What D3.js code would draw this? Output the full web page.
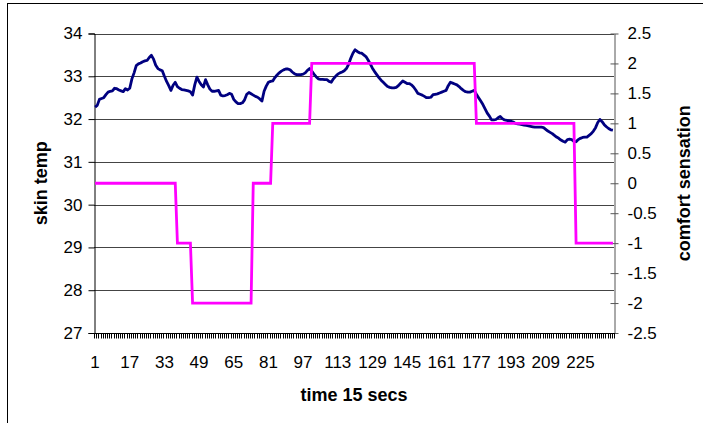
<!DOCTYPE html>
<html>
<head>
<meta charset="utf-8">
<script src="https://cdn.jsdelivr.net/npm/d3@7"></script>
<style>
  body { margin: 0; background: #fff; }
  svg { display: block; font-family: "Liberation Sans", Arial, sans-serif; }
</style>
</head>
<body>
<div id="chart"></div>
<script>
// skin temp readings, one per 15 sec interval (1..240)
var skinTemp = [
  32.28, 32.32, 32.46, 32.48, 32.50, 32.57, 32.63, 32.65, 32.66, 32.72, 32.71, 32.68, 32.66, 32.64, 32.71, 32.68, 32.72, 32.94, 33.08, 33.25,
  33.29, 33.31, 33.34, 33.36, 33.37, 33.44, 33.49, 33.40, 33.26, 33.18, 33.15, 33.13, 33.00, 32.88, 32.78, 32.67, 32.79, 32.86, 32.76, 32.72,
  32.69, 32.68, 32.67, 32.66, 32.64, 32.56, 32.80, 32.98, 32.88, 32.80, 32.75, 32.92, 32.80, 32.70, 32.65, 32.65, 32.66, 32.67, 32.56, 32.54,
  32.55, 32.57, 32.60, 32.58, 32.46, 32.40, 32.36, 32.36, 32.38, 32.45, 32.58, 32.62, 32.59, 32.56, 32.53, 32.51, 32.47, 32.42, 32.65, 32.77,
  32.86, 32.88, 32.89, 32.97, 33.03, 33.08, 33.12, 33.15, 33.17, 33.17, 33.15, 33.10, 33.06, 33.04, 33.04, 33.04, 33.05, 33.08, 33.14, 33.18,
  33.12, 33.05, 32.99, 32.94, 32.93, 32.93, 32.92, 32.92, 32.88, 32.86, 32.94, 33.00, 33.05, 33.08, 33.10, 33.13, 33.18, 33.28, 33.42, 33.54,
  33.62, 33.58, 33.55, 33.54, 33.50, 33.46, 33.38, 33.29, 33.19, 33.11, 33.04, 32.97, 32.91, 32.86, 32.81, 32.76, 32.74, 32.73, 32.73, 32.74,
  32.78, 32.84, 32.89, 32.86, 32.83, 32.83, 32.80, 32.75, 32.68, 32.60, 32.58, 32.56, 32.53, 32.50, 32.50, 32.51, 32.57, 32.58, 32.59, 32.61,
  32.63, 32.65, 32.67, 32.78, 32.86, 32.84, 32.82, 32.80, 32.76, 32.71, 32.67, 32.64, 32.63, 32.63, 32.65, 32.67, 32.58, 32.50, 32.42, 32.34,
  32.24, 32.14, 32.07, 31.98, 31.98, 31.99, 32.03, 32.06, 32.01, 31.98, 31.97, 31.96, 31.95, 31.93, 31.90, 31.89, 31.88, 31.87, 31.86, 31.85,
  31.84, 31.83, 31.82, 31.81, 31.81, 31.81, 31.81, 31.80, 31.76, 31.72, 31.69, 31.66, 31.62, 31.58, 31.55, 31.51, 31.48, 31.46, 31.52, 31.53,
  31.52, 31.48, 31.47, 31.52, 31.55, 31.57, 31.58, 31.58, 31.62, 31.66, 31.72, 31.80, 31.92, 31.99, 31.94, 31.87, 31.82, 31.78, 31.75, 31.74
];

// comfort sensation votes, same intervals
var comfort = [
  0, 0, 0, 0, 0, 0, 0, 0, 0, 0, 0, 0, 0, 0, 0, 0, 0, 0, 0, 0,
  0, 0, 0, 0, 0, 0, 0, 0, 0, 0, 0, 0, 0, 0, 0, 0, 0, 0, -1, -1,
  -1, -1, -1, -1, -1, -2, -2, -2, -2, -2, -2, -2, -2, -2, -2, -2, -2, -2, -2, -2,
  -2, -2, -2, -2, -2, -2, -2, -2, -2, -2, -2, -2, -2, 0, 0, 0, 0, 0, 0, 0,
  0, 0, 1, 1, 1, 1, 1, 1, 1, 1, 1, 1, 1, 1, 1, 1, 1, 1, 1, 1,
  2, 2, 2, 2, 2, 2, 2, 2, 2, 2, 2, 2, 2, 2, 2, 2, 2, 2, 2, 2,
  2, 2, 2, 2, 2, 2, 2, 2, 2, 2, 2, 2, 2, 2, 2, 2, 2, 2, 2, 2,
  2, 2, 2, 2, 2, 2, 2, 2, 2, 2, 2, 2, 2, 2, 2, 2, 2, 2, 2, 2,
  2, 2, 2, 2, 2, 2, 2, 2, 2, 2, 2, 2, 2, 2, 2, 2, 1, 1, 1, 1,
  1, 1, 1, 1, 1, 1, 1, 1, 1, 1, 1, 1, 1, 1, 1, 1, 1, 1, 1, 1,
  1, 1, 1, 1, 1, 1, 1, 1, 1, 1, 1, 1, 1, 1, 1, 1, 1, 1, 1, 1,
  1, 1, -1, -1, -1, -1, -1, -1, -1, -1, -1, -1, -1, -1, -1, -1, -1, -1, -1, -1
];

// axis ticks
var tempTicks = [27, 28, 29, 30, 31, 32, 33, 34];
var comfortTicks = [-2.5, -2, -1.5, -1, -0.5, 0, 0.5, 1, 1.5, 2, 2.5];
var timeLabels = [1, 17, 33, 49, 65, 81, 97, 113, 129, 145, 161, 177, 193, 209, 225];

function init() {
    var w = 703, h = 423;
    var left = 94, right = 614, top = 33.5, bottom = 333;
    var fs = 17;      // tick label size
    var titleFs = 18; // axis title size

    var times = d3.range(1, skinTemp.length + 1);
    var plain = function(d) { return String(d); }; // "-1" with a hyphen, no trailing .0

    var svg = d3.select("#chart")
        .append("svg")
        .attr("width", w)
        .attr("height", h);

    // outer chart border
    svg.append("rect")
        .attr("x", 7.5).attr("y", 3.5)
        .attr("width", 720).attr("height", 440)
        .attr("fill", "none")
        .attr("stroke", "#000")
        .attr("stroke-width", 1);

    var xScale = d3.scaleBand()
        .domain(times)
        .range([left, right]);

    var yLeft = d3.scaleLinear().domain([27, 34]).range([bottom, top]);
    var yRight = d3.scaleLinear().domain([-2.5, 2.5]).range([bottom, top]);

    function cx(t) { return xScale(t) + xScale.bandwidth() / 2; }

    // horizontal gridlines from the left axis
    svg.append("g")
        .selectAll("line")
        .data(tempTicks)
        .enter()
        .append("line")
        .attr("x1", left).attr("x2", right)
        .attr("y1", function(d) { return Math.round(yLeft(d)) + 0.5; })
        .attr("y2", function(d) { return Math.round(yLeft(d)) + 0.5; })
        .attr("stroke", "#444")
        .attr("stroke-width", 1);

    // left axis
    var gL = svg.append("g")
        .attr("transform", "translate(" + (left + 0.5) + ",0)")
        .call(d3.axisLeft(yLeft).tickValues(tempTicks).tickFormat(plain).tickSize(6).tickPadding(6));
    gL.select(".domain").attr("stroke", "#000");
    gL.selectAll("text").attr("font-size", fs).attr("fill", "#000").attr("font-family", "Liberation Sans, Arial, sans-serif");

    // right axis with crossing ticks
    var gR = svg.append("g")
        .attr("transform", "translate(" + (right + 0.5) + ",0)")
        .call(d3.axisRight(yRight).tickValues(comfortTicks).tickFormat(plain).tickSize(4).tickPadding(9).tickSizeOuter(0));
    gR.select(".domain").attr("stroke", "#555");
    gR.selectAll(".tick line").attr("x1", -4).attr("stroke", "#555");
    gR.selectAll("text").attr("font-size", fs).attr("fill", "#000").attr("font-family", "Liberation Sans, Arial, sans-serif");

    // bottom axis: a tick between every category, labels every 16th
    var gB = svg.append("g").attr("transform", "translate(0," + (bottom + 0.5) + ")");
    gB.append("line")
        .attr("x1", left).attr("x2", right + 1)
        .attr("stroke", "#000");
    gB.selectAll("line.tk")
        .data(times.concat([times.length + 1]))
        .enter()
        .append("line")
        .attr("class", "tk")
        .attr("x1", function(d) { return d > times.length ? right + 0.5 : Math.round(xScale(d)) + 0.5; })
        .attr("x2", function(d) { return d > times.length ? right + 0.5 : Math.round(xScale(d)) + 0.5; })
        .attr("y1", 0).attr("y2", 5)
        .attr("stroke", "#000")
        .attr("stroke-width", 1);
    gB.selectAll("text")
        .data(timeLabels)
        .enter()
        .append("text")
        .text(function(d) { return d; })
        .attr("x", function(d) { return cx(d); })
        .attr("y", 34)
        .attr("text-anchor", "middle")
        .attr("font-size", fs)
        .attr("fill", "#000");

    // comfort sensation line (secondary axis)
    var comfortLine = d3.line()
        .x(function(d, i) { return cx(times[i]); })
        .y(function(d) { return yRight(d); });

    // skin temp line (primary axis)
    var tempLine = d3.line()
        .x(function(d, i) { return cx(times[i]); })
        .y(function(d) { return yLeft(d); });

    svg.append("path")
        .datum(skinTemp)
        .attr("d", tempLine)
        .attr("fill", "none")
        .attr("stroke", "#000080")
        .attr("stroke-width", 2.8)
        .attr("stroke-linejoin", "round");

    svg.append("path")
        .datum(comfort)
        .attr("d", comfortLine)
        .attr("fill", "none")
        .attr("stroke", "#ff00ff")
        .attr("stroke-width", 2.8);

    // axis titles
    svg.append("text")
        .text("skin temp")
        .attr("transform", "translate(47," + ((top + bottom) / 2) + ") rotate(-90)")
        .attr("text-anchor", "middle")
        .attr("font-size", titleFs)
        .attr("font-weight", "bold");

    svg.append("text")
        .text("comfort sensation")
        .attr("transform", "translate(690," + ((top + bottom) / 2) + ") rotate(-90)")
        .attr("text-anchor", "middle")
        .attr("font-size", titleFs)
        .attr("font-weight", "bold");

    svg.append("text")
        .text("time 15 secs")
        .attr("x", (left + right) / 2)
        .attr("y", 401)
        .attr("text-anchor", "middle")
        .attr("font-size", titleFs)
        .attr("font-weight", "bold");
}

window.onload = init;
</script>
</body>
</html>
